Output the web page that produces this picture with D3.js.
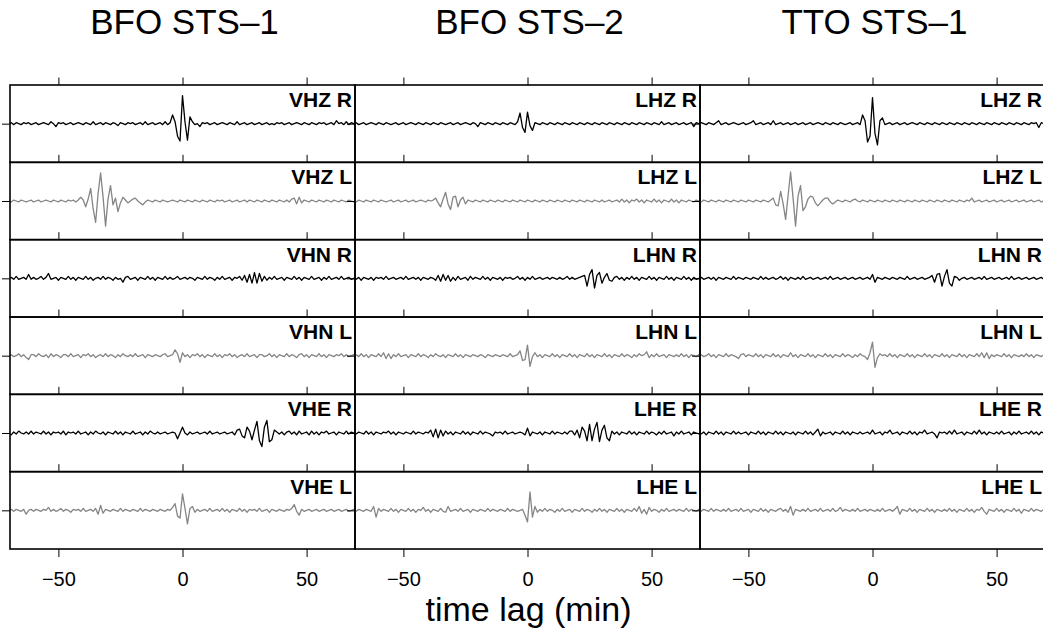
<!DOCTYPE html>
<meta charset="utf-8">

<!-- Load d3.js -->
<script src="https://d3js.org/d3.v7.min.js"></script>

<style>
body { margin: 0; background: #fff; }
svg text { font-family: "Liberation Sans", Arial, Helvetica, sans-serif; }
</style>

<!-- Create a div where the graph will take place -->
<div id="my_dataviz"></div>

<script>

// column titles (instruments) and the channel label of every row
var columns = ["BFO STS\u20131", "BFO STS\u20132", "TTO STS\u20131"];
var rowLabels = [
  ["VHZ R", "VHZ L", "VHN R", "VHN L", "VHE R", "VHE L"],
  ["LHZ R", "LHZ L", "LHN R", "LHN L", "LHE R", "LHE L"],
  ["LHZ R", "LHZ L", "LHN R", "LHN L", "LHE R", "LHE L"]
];
var xTicks = [-50, 0, 50];

// traces: one sample per minute of time lag, first sample at -70 min
var lagStart = -70, lagStep = 1;

var bfo1_vhz_r = [
  0,1,-1,1,0,-1,1,0,1,-1, 0,1,-1,0,1,0,-1,2,0,-3,
  1,0,1,-1,0,1,-1,0,1,0, -1,1,0,-1,2,-1,0,1,-1,1,
  0,-1,1,0,-2,1,0,-1,1,0, 1,-1,0,1,-1,2,-1,0,1,-1,
  0,1,-1,2,-1,1,9,2,-13,-18, 29,2,-17,7,2,-1,0,-3,1,0,
  1,-1,0,1,-1,0,1,0,-1,1, 0,-1,2,-1,0,1,-1,0,1,-1,
  0,1,-1,0,1,-1,0,-1,1,0, 1,-1,0,1,-1,0,1,0,-1,1,
  0,-1,1,0,-1,1,0,1,-1,0, 1,-1,3,0,1,-1,2,-1,1,0,
  0];
var bfo1_vhz_l = [
  0,-1,1,0,-1,1,0,-1,0,1, -1,0,1,-1,0,1,0,-1,1,0,
  -1,1,0,-1,1,0,1,-1,1,4, 1,-6,2,13,-8,-22,8,29,4,-26,
  2,16,-4,3,-11,-2,4,1,-2,0, 2,3,0,-2,-4,-1,1,0,-1,1,
  0,-1,1,0,-1,0,1,0,-1,1, 0,-1,1,0,-1,1,0,-1,1,0,
  -1,1,0,-1,1,0,1,-1,0,1, -1,0,1,-1,0,1,-1,1,0,-1,
  1,0,-1,1,0,-1,1,0,-1,1, 0,-1,1,-1,2,3,-3,4,-2,1,
  0,-1,1,0,-1,1,0,-1,1,0, -1,1,0,-1,1,0,-1,1,0,-1,
  0];
var bfo1_vhn_r = [
  0,1,-1,2,-1,0,1,-1,4,-1, 1,-1,0,2,-1,1,5,-1,0,1,
  -2,1,0,-1,2,-1,1,-2,1,0, -1,2,-1,1,-2,0,1,-1,2,-1,
  1,0,-2,1,-1,0,-4,1,2,-1, 0,1,-2,1,0,-1,2,-1,1,-2,
  1,0,-1,2,-1,1,-1,0,2,-1, 0,1,-1,1,0,-2,1,0,-1,2,
  -1,1,0,-2,1,-1,2,-1,0,1, -2,1,0,2,-2,3,-4,4,-5,6,
  -5,5,-3,2,-2,1,-1,2,-1,0, 1,-2,1,0,-1,2,-1,1,-2,1,
  0,-1,2,-1,0,1,-2,1,-1,2, -1,0,1,-1,2,-1,0,1,-1,0,
  1];
var bfo1_vhn_l = [
  0,1,-1,0,2,-1,1,-2,-4,1, 1,-1,2,0,-1,1,-2,2,-1,1,
  0,-2,1,1,-1,2,-1,0,1,-2, 1,0,2,-1,1,-2,0,1,-1,2,
  -1,1,0,-2,1,-1,2,0,-1,1, -1,2,-1,0,1,-2,1,0,-1,1,
  0,-1,1,2,-1,0,1,6,2,-7, 3,-1,1,-2,1,0,2,-1,1,-2,
  1,0,-1,2,-1,1,-2,1,0,2, -1,1,-2,0,1,-1,2,-1,0,1,
  -2,1,1,-1,0,2,-1,1,-2,1, 0,-1,2,-1,1,0,-2,1,2,-1,
  1,-2,1,0,-1,2,-1,1,-2,1, 0,-1,1,0,2,-1,1,-1,0,1,
  0];
var bfo1_vhe_r = [
  0,-2,1,-1,2,0,-1,1,-1,2, -1,1,0,-1,2,-1,1,-2,1,0,
  1,-1,2,-2,1,0,1,-1,2,-1, 0,1,-2,1,-1,2,0,-1,1,-2,
  1,0,-1,2,-1,1,-2,1,0,-1, 2,-1,0,1,-2,1,-1,2,0,-1,
  1,-1,0,1,-1,0,1,0,-6,0, 6,0,-2,1,-1,0,1,-1,0,1,
  -1,2,-1,0,1,-1,0,1,-1,0, 1,-2,3,4,-3,-5,6,2,-7,3,
  12,-8,-14,6,13,-9,-7,3,1,-1, 1,-2,1,2,-1,1,-2,2,-1,0,
  1,-2,2,-1,1,-2,1,0,2,-1, 0,1,-2,1,0,-1,2,-1,1,0,
  0];
var bfo1_vhe_l = [
  0,1,-1,1,0,-1,1,-4,0,1, -1,1,0,-1,1,0,3,-1,1,-1,
  0,2,-1,1,0,-2,1,0,1,-1, 2,-1,0,1,-1,2,-4,5,-3,1,
  0,-1,1,0,-1,2,-1,1,0,-1, 1,0,-1,2,-1,1,0,-1,1,0,
  -1,1,0,-1,1,0,3,7,-6,-8, 17,2,-14,2,4,-2,1,-1,0,1,
  -1,2,-1,0,1,-1,2,-1,1,-2, 1,0,-1,2,-1,1,-2,1,0,1,
  -1,2,-1,0,1,-2,1,0,-1,1, 0,-1,1,0,2,6,-1,-5,1,-1,
  0,1,-1,0,1,-1,0,1,-1,0, 1,-1,0,1,-1,0,1,-1,0,1,
  0];

var bfo2_lhz_r = [
  0,1,-1,0,1,-1,0,1,0,-1, 1,0,-1,1,0,-1,0,1,-1,0,
  1,-1,0,1,0,-1,1,0,-1,1, 0,-1,1,0,-1,1,0,-1,0,1,
  -1,0,1,-1,0,1,0,-1,1,0, -3,1,0,-1,1,0,-1,1,0,-1,
  1,0,-1,1,0,-1,2,11,-4,-9, 12,-2,-7,1,0,-1,1,0,-1,1,
  0,-1,1,0,-1,1,0,-1,1,0, -1,1,0,-1,1,0,-1,1,0,-1,
  1,0,-1,1,0,-1,1,0,-1,1, 0,-1,1,0,-1,1,0,-1,1,0,
  -1,1,0,-1,2,-1,0,1,-1,0, 1,-1,0,1,-1,0,1,-3,1,0,
  0];
var bfo2_lhz_l = [
  0,-1,1,0,-1,1,0,-1,1,0, -1,1,0,-1,0,1,-1,0,1,-1,
  0,1,-1,0,1,-1,0,1,0,-1, 1,0,1,3,-2,-6,2,9,-3,-9,
  4,5,-6,1,4,-3,1,0,-1,1, 0,-1,1,0,-1,1,0,-1,1,0,
  -1,1,0,-1,1,0,-1,1,0,-1, 1,0,-1,1,0,-1,1,0,-1,1,
  0,-1,1,0,-1,1,0,-1,1,0, -1,1,0,-1,1,0,-1,1,0,-1,
  1,-1,0,1,-1,0,1,-1,2,-1, 1,-2,1,0,2,-1,1,-2,1,0,
  -1,2,-1,1,-2,1,0,-1,2,-1, 1,-2,1,0,-1,1,0,-1,1,0,
  0];
var bfo2_lhn_r = [
  0,-1,1,-2,1,0,-1,1,-2,1, 0,1,-1,2,-1,0,1,-1,0,1,
  -1,2,-1,0,1,-1,1,-2,1,0, -1,1,0,-2,3,-3,4,-2,3,-3,
  1,-2,2,-1,0,1,-2,2,-1,1, 0,-1,2,-1,1,-2,1,0,-1,1,
  -2,1,0,1,-1,0,2,-1,1,-2, 1,-1,2,-1,0,1,-1,0,1,-1,
  1,0,-1,1,-1,0,2,-1,1,-1, 0,1,2,3,-8,4,9,-10,3,6,
  -5,1,5,-2,-3,1,2,-1,1,-2, 1,-1,2,-1,1,-2,1,0,-1,2,
  -1,1,-2,1,0,-1,2,-1,1,-2, 1,0,-1,2,-1,1,-2,1,-1,0,
  0];
var bfo2_lhn_l = [
  0,1,-1,2,-1,1,-2,1,0,-1, 2,-1,3,-3,2,-3,1,-1,2,-1,
  0,1,-2,1,0,-1,2,-1,1,0, -2,1,-1,2,0,-1,1,-2,1,0,
  -1,2,-1,1,-2,1,0,-1,1,0, -1,1,0,-2,1,0,-1,1,0,-1,
  1,0,-1,2,-1,0,1,5,-5,-4, 11,-11,-1,3,-1,1,-2,1,0,-1,
  2,-1,1,-2,1,0,-1,2,-1,1, -2,1,0,-1,2,-1,1,-2,1,0,
  -1,2,-1,1,-2,1,0,-1,2,-1, 1,0,-2,1,-1,2,0,1,4,-2,
  1,-1,2,-1,0,1,-2,1,0,-1, 1,-1,2,-1,1,-2,1,0,-1,1,
  0];
var bfo2_lhe_r = [
  0,-1,1,0,-1,2,-1,1,-2,1, 0,-1,1,0,2,-1,1,-2,1,0,
  -1,1,0,-1,2,-1,1,0,-1,1, 0,3,-4,4,-5,3,-3,2,-1,1,
  -2,1,0,-1,2,-1,1,-2,1,0, -1,2,-1,1,0,-1,-3,1,0,1,
  -1,2,-1,0,1,-1,0,1,0,-2, 5,-3,1,0,-1,1,-2,1,0,-1,
  2,-1,1,0,-1,1,-1,2,2,-2, 3,-5,6,2,-8,9,-8,4,11,-9,
  3,8,-5,-8,2,-1,1,-2,1,0, -1,2,-1,1,-2,1,0,-1,2,-1,
  1,0,-2,1,-1,2,-1,0,1,-3, 1,-1,2,-1,0,1,-2,1,0,-1,
  1];
var bfo2_lhe_l = [
  0,-1,1,0,-1,1,0,-1,4,-7, 2,-1,1,0,-1,2,-1,1,-2,1,
  0,-1,2,-1,1,-2,1,0,3,-1, 1,-2,1,0,-1,2,-1,-2,4,-1,
  0,1,-1,2,-1,0,1,-2,1,0, -1,1,0,-1,2,-1,1,0,-1,1,
  0,-1,2,-1,1,0,-1,0,1,-5, -12,19,-7,4,-2,1,-1,2,-1,1,
  0,-2,1,-1,2,-1,0,1,-2,1, 0,-1,2,-1,1,0,-2,1,-1,2,
  -1,1,-2,1,0,-1,2,-1,1,-2, 1,0,-1,2,-1,4,-3,1,-4,3,
  -1,1,0,-2,1,-1,2,-1,0,1, -1,1,0,-1,2,-1,1,0,-1,1,
  0];

var tto1_lhz_r = [
  0,1,0,-1,1,0,-1,1,3,-1, 0,1,-1,0,1,0,-1,0,1,-1,
  0,1,3,-1,0,1,-1,0,1,-1, 3,-1,0,1,-1,0,1,-1,0,1,
  -1,0,1,-1,0,1,-1,0,1,0, -1,1,0,-1,1,0,-1,1,0,-1,
  0,1,-1,0,1,-1,9,3,-19,-13, 27,-10,-22,3,6,-1,0,1,-1,0,
  1,-1,0,1,-1,0,1,0,-1,1, 0,-1,1,0,-1,1,0,-1,1,0,
  -1,1,0,-1,1,0,-1,1,0,-1, 1,0,-1,1,0,-1,1,0,-1,1,
  0,-1,1,0,-1,1,0,-1,1,0, -1,1,0,-1,1,0,1,-4,1,0,
  0];
var tto1_lhz_l = [
  0,-1,1,0,-1,1,0,-1,1,0, -1,1,0,-1,1,0,-1,1,0,-1,
  1,0,-1,1,0,-1,1,0,-1,1, 3,-4,-5,10,-3,-19,6,30,3,-26,
  5,16,-10,-6,2,5,4,-2,-5,-2, 1,3,3,-1,-3,-1,1,0,-1,1,
  0,-1,1,2,0,-1,1,0,-1,1, 0,-1,1,0,-1,1,0,-1,1,0,
  -1,1,0,-1,1,0,-1,1,0,-1, 1,0,-1,1,0,-1,1,0,-1,1,
  0,-1,1,0,-1,1,0,-1,1,0, 3,-1,0,1,-1,0,1,-1,0,1,
  -1,0,1,-1,0,1,-1,0,1,-1, 0,1,-1,0,1,-1,0,1,-1,0,
  0];
var tto1_lhn_r = [
  0,1,-1,0,1,-1,1,-2,1,0, -1,1,0,-1,2,-1,1,0,-1,1,
  0,-1,1,0,-1,2,-1,1,-1,0, 1,-1,0,2,-1,1,-2,1,0,-1,
  1,-1,2,-1,0,1,-1,0,1,-1, 0,1,-1,2,-1,0,1,-1,0,1,
  -1,0,1,-1,0,1,-1,0,1,-1, 4,-4,1,0,-1,1,0,-1,1,0,
  -1,1,0,-1,2,-1,0,1,-1,0, 1,-1,0,1,3,-4,4,5,-8,2,
  9,-5,-8,2,1,-2,0,1,-1,0, 1,-1,0,1,-1,2,-1,0,1,-1,
  0,1,-1,0,1,-1,2,-1,0,1, -1,0,1,-1,0,1,-1,0,1,-1,
  0];
var tto1_lhn_l = [
  0,1,-1,0,2,-1,1,-2,1,0, -1,2,-1,1,0,-1,-3,1,2,-1,
  1,0,-1,2,-1,1,-2,1,0,-1, 2,-1,1,-2,1,0,-1,3,-1,1,
  -2,1,0,-1,2,-1,1,-2,1,0, -1,2,-1,1,-2,1,0,-1,2,-1,
  1,0,-2,1,-1,2,0,-1,-4,3, 14,-12,-2,2,0,1,-1,2,-1,1,
  -2,1,0,-1,2,-1,1,-2,1,0, -1,2,-1,1,-2,1,0,-1,2,-1,
  1,-2,1,0,-1,2,-1,1,-2,1, 0,-1,2,-1,3,-2,3,-3,1,-1,
  1,0,-1,2,-1,1,-2,1,0,-1, 1,-1,2,-1,1,-2,1,0,-1,1,
  0];
var tto1_lhe_r = [
  0,-1,1,-2,1,0,-1,2,-1,1, -2,1,0,-1,2,-1,1,-1,0,1,
  -2,1,0,-1,2,-1,1,-2,1,0, -1,2,-1,1,-2,1,0,-1,1,-2,
  1,0,-1,2,-1,1,-2,1,4,-3, 1,-1,0,1,-2,1,0,-1,2,-1,
  1,-2,1,0,-1,1,-1,0,1,-1, 3,-1,0,1,-2,1,0,3,-1,0,
  1,-2,1,0,-1,2,-1,1,-2,1, 0,3,-1,0,1,-1,-5,1,0,1,
  -1,2,-1,3,-1,0,1,-2,1,0, -1,2,-1,3,-1,1,-2,1,0,-1,
  1,-1,2,-1,0,1,-2,1,-1,2, -1,0,1,-1,2,-1,1,-2,1,0,
  0];
var tto1_lhe_l = [
  0,-1,1,0,-1,2,-1,1,0,-1, 1,-1,2,-1,0,1,-1,2,-1,0,
  1,-2,1,0,-1,2,-1,1,-2,1, 0,-1,1,2,-1,1,-2,4,-5,1,
  0,-1,1,-1,2,-1,0,1,-1,2, -1,0,1,-1,2,-1,0,3,-1,1,
  0,-1,1,-1,2,-1,0,1,-1,1, 0,-1,1,-1,2,-1,0,1,-1,1,
  4,-4,1,0,-1,2,-1,1,-2,1, 0,-1,2,-1,1,-2,1,0,-1,1,
  -1,2,-1,1,-2,1,0,-1,2,-1, 1,-2,1,0,3,-1,-4,1,0,-1,
  2,-1,1,-2,1,0,-1,2,-1,1, -3,1,0,-1,2,-1,1,0,-1,1,
  0];

var traces = [
  [bfo1_vhz_r, bfo1_vhz_l, bfo1_vhn_r, bfo1_vhn_l, bfo1_vhe_r, bfo1_vhe_l],
  [bfo2_lhz_r, bfo2_lhz_l, bfo2_lhn_r, bfo2_lhn_l, bfo2_lhe_r, bfo2_lhe_l],
  [tto1_lhz_r, tto1_lhz_l, tto1_lhn_r, tto1_lhn_l, tto1_lhe_r, tto1_lhe_l]
];

// set the dimensions of the page and of every panel
var width = 1043, height = 632;
var panelLeft = 10, panelTop = 85,
    colWidth = 345, rowHeight = 464 / 6;

var svg = d3.select("#my_dataviz")
  .append("svg")
    .attr("width", width)
    .attr("height", height);

// one clip rectangle in panel coordinates, shared by all panels
svg.append("defs").append("clipPath")
    .attr("id", "panel-clip")
  .append("rect")
    .attr("width", colWidth)
    .attr("height", rowHeight);

// scales: time lag (min) across, amplitude up
var x = d3.scaleLinear()
  .domain([-69.5, 69.5])
  .range([0, colWidth]);
var y = d3.scaleLinear()
  .domain([-40, 40])
  .range([rowHeight, 0]);

var line = d3.line()
  .x(function(d, i) { return x(lagStart + i * lagStep); })
  .y(function(d) { return y(d); });

columns.forEach(function(title, c) {
  var x0 = panelLeft + c * colWidth;

  // column title
  svg.append("text")
    .attr("x", x0 + x(0) + 2)
    .attr("y", 33.5)
    .style("text-anchor", "middle")
    .style("font-size", "35px")
    .text(title);

  rowLabels[c].forEach(function(label, r) {
    var g = svg.append("g")
      .attr("transform", "translate(" + x0 + "," + (panelTop + r * rowHeight) + ")");

    // trace: black for R, grey for L
    g.append("path")
      .datum(traces[c][r])
      .attr("clip-path", "url(#panel-clip)")
      .attr("fill", "none")
      .attr("stroke", r % 2 == 0 ? "#000" : "#858585")
      .attr("stroke-width", 1.3)
      .attr("stroke-linejoin", "round")
      .attr("d", line);

    // panel box
    g.append("rect")
      .attr("width", colWidth)
      .attr("height", rowHeight)
      .attr("fill", "none")
      .attr("stroke", "#000")
      .attr("stroke-width", 1.6);

    // ticks on the top edge, pointing out
    g.append("g")
      .call(d3.axisTop(x).tickValues(xTicks).tickSize(7.5).tickFormat(""))
      .call(function(a) { a.select(".domain").remove(); });

    // zero tick on the left edge
    g.append("g")
      .call(d3.axisLeft(y).tickValues([0]).tickSize(8).tickFormat(""))
      .call(function(a) { a.select(".domain").remove(); });

    // channel label
    g.append("text")
      .attr("x", colWidth - 3)
      .attr("y", 22)
      .style("text-anchor", "end")
      .style("font-weight", "bold")
      .style("font-size", "21px")
      .text(label);

    // bottom row gets the labelled x axis
    if (r == rowLabels[c].length - 1) {
      g.append("g")
        .attr("transform", "translate(0," + rowHeight + ")")
        .call(d3.axisBottom(x).tickValues(xTicks).tickSize(8).tickPadding(15))
        .call(function(a) { a.select(".domain").remove(); })
        .selectAll("text")
          .style("font-size", "20px")
          .attr("font-family", null);
    }
  });
});

// text label for the x axis
svg.append("text")
  .attr("x", panelLeft + colWidth + x(0) + 1)
  .attr("y", 621)
  .style("text-anchor", "middle")
  .style("font-size", "34px")
  .text("time lag (min)");

</script>
